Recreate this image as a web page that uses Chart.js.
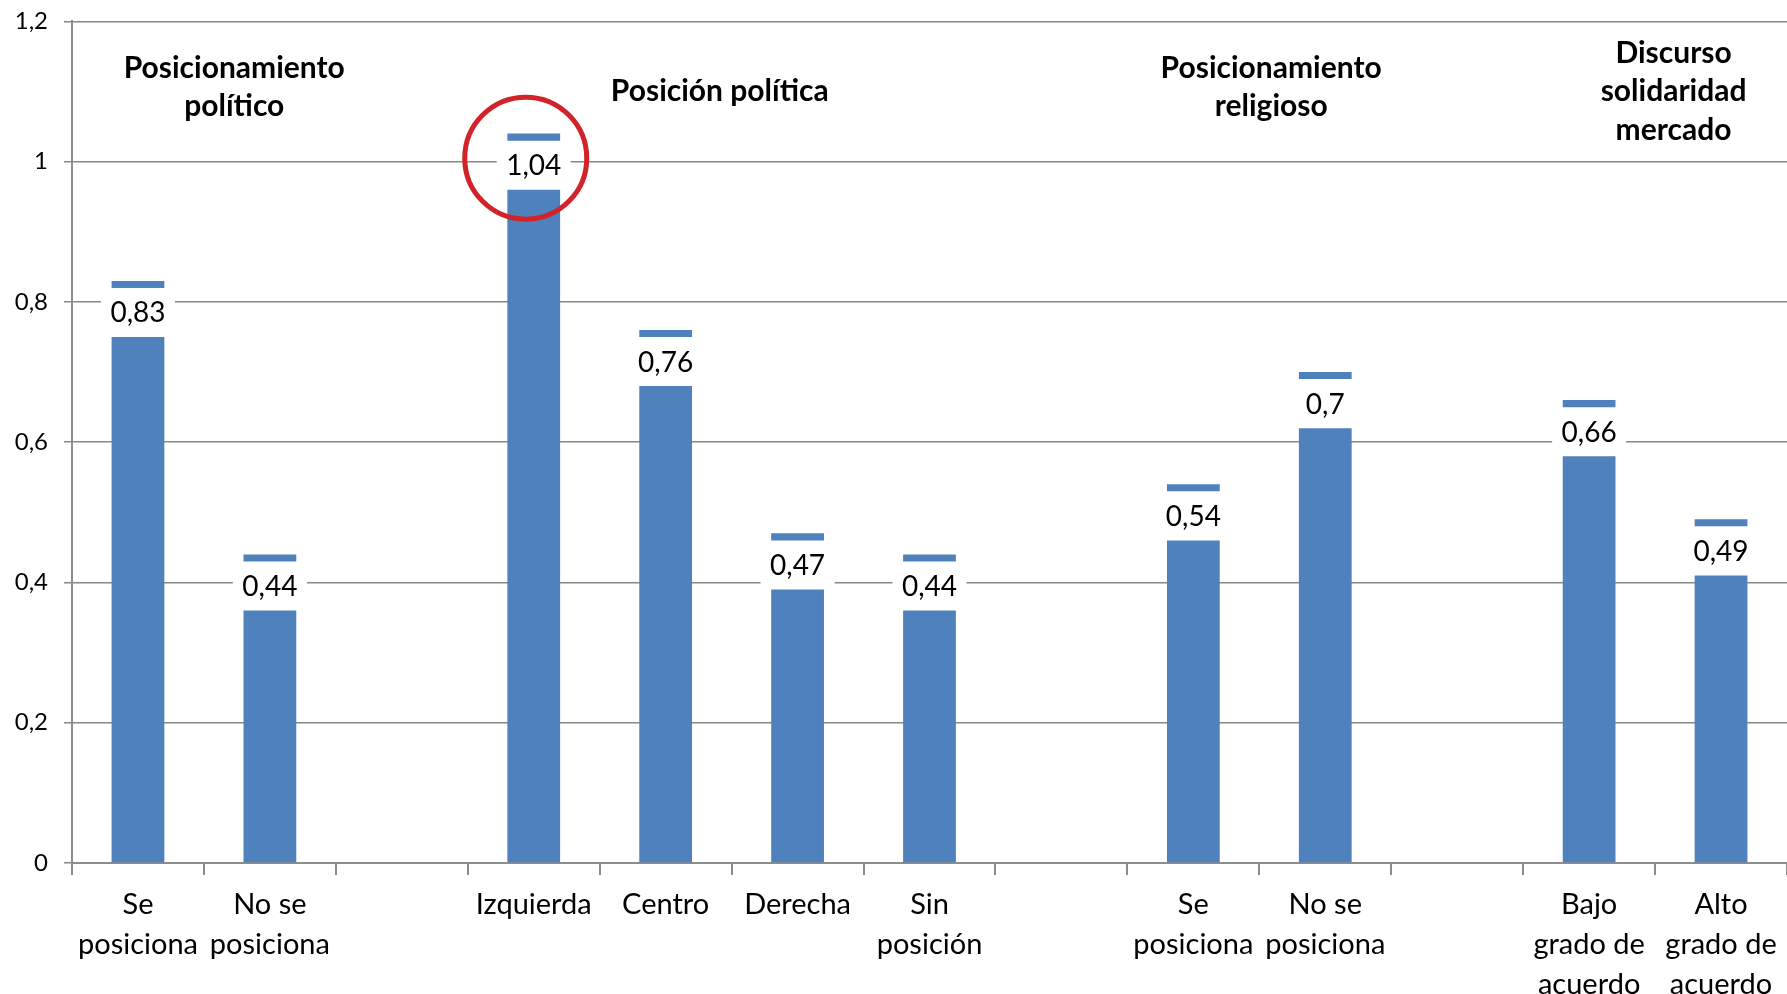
<!DOCTYPE html>
<html lang="es">
<head>
  <meta charset="UTF-8">
  <title>Posicionamiento</title>
  <script src="https://cdn.jsdelivr.net/npm/chart.js"></script>
  <style>
    html, body { margin: 0; padding: 0; background: #fff; }
    #wrap { width: 1787px; height: 994px; }
  </style>
</head>
<body>
  <div id="wrap"><canvas id="chart"></canvas></div>

  <script>
    // categories (empty strings are the spacers between groups)
    const categories = [
      ['Se', 'posiciona'], ['No se', 'posiciona'], '',
      ['Izquierda'], ['Centro'], ['Derecha'], ['Sin', 'posición'], '',
      ['Se', 'posiciona'], ['No se', 'posiciona'], '',
      ['Bajo', 'grado de', 'acuerdo'], ['Alto', 'grado de', 'acuerdo']
    ];
    const values = [0.83, 0.44, null, 1.04, 0.76, 0.47, 0.44, null, 0.54, 0.70, null, 0.66, 0.49];
    const yTicks = [0, 0.2, 0.4, 0.6, 0.8, 1, 1.2];

    // group headings, placed over category index "at", centred on value "y"
    const groupTitles = [
      { lines: ['Posicionamiento', 'político'], at: 0.73, y: 1.106 },
      { lines: ['Posición política'], at: 4.41, y: 1.1 },
      { lines: ['Posicionamiento', 'religioso'], at: 8.59, y: 1.106 },
      { lines: ['Discurso', 'solidaridad', 'mercado'], at: 11.64, y: 1.1 }
    ];
    const highlightIndex = 3;

    const BLUE = '#4F81BD';
    const GAP = 0.08;   // white space under the cap where the label sits
    const CAP = 0.01;   // thickness of the cap line
    const FONT = 'Lato, "Open Sans", sans-serif';

    const fmt = v => String(Number(v.toFixed(2))).replace('.', ',');

    const baseData = values.map(v => v == null ? null : v - GAP);
    const gapData = values.map(v => v == null ? null : GAP - CAP);
    const capData = values.map(v => v == null ? null : CAP);

    const overlay = {
      id: 'overlay',
      afterDatasetsDraw(chart) {
        const ctx = chart.ctx;
        const x = chart.scales.x, y = chart.scales.y;
        const bars = chart.getDatasetMeta(0).data;
        ctx.save();

        // value labels with white box over the gridlines
        ctx.font = '28px ' + FONT;
        ctx.textAlign = 'center';
        ctx.textBaseline = 'middle';
        values.forEach((v, i) => {
          if (v == null) return;
          const bx = bars[i].x;
          const top = y.getPixelForValue(v - CAP);
          const bottom = y.getPixelForValue(v - GAP);
          ctx.fillStyle = '#fff';
          ctx.fillRect(bx - 37, top + 1, 74, bottom - top - 2);
          ctx.fillStyle = '#000';
          ctx.fillText(fmt(v), bx, y.getPixelForValue(v - GAP / 2 - CAP / 2) + 1);
        });

        // group headings
        ctx.font = 'bold 30px ' + FONT;
        groupTitles.forEach(g => {
          const cx = x.getPixelForValue(g.at);
          const cy = y.getPixelForValue(g.y);
          const lh = 38.5;
          g.lines.forEach((line, k) => {
            ctx.fillText(line, cx, cy + (k - (g.lines.length - 1) / 2) * lh);
          });
        });

        // red circle around the highlighted value
        const hv = values[highlightIndex];
        ctx.strokeStyle = '#D2232A';
        ctx.lineWidth = 5;
        ctx.beginPath();
        ctx.arc(bars[highlightIndex].x - 8, y.getPixelForValue(hv - 0.035), 61, 0, Math.PI * 2);
        ctx.stroke();

        ctx.restore();
      }
    };

    window.onload = function () {
      const ctx = document.getElementById('chart').getContext('2d');
      new Chart(ctx, {
        type: 'bar',
        data: {
          labels: categories,
          datasets: [
            { data: baseData, backgroundColor: BLUE },
            { data: gapData, backgroundColor: 'rgba(0,0,0,0)' },
            { data: capData, backgroundColor: BLUE }
          ]
        },
        options: {
          responsive: true,
          maintainAspectRatio: false,
          animation: false,
          layout: { padding: 0 },
          datasets: { bar: { categoryPercentage: 1, barPercentage: 0.4 } },
          plugins: {
            legend: { display: false },
            tooltip: { enabled: false }
          },
          scales: {
            x: {
              stacked: true,
              grid: {
                offset: true,
                drawOnChartArea: false,
                drawTicks: true,
                tickLength: 12,
                color: '#8c8c8c',
                lineWidth: 2
              },
              border: { color: '#8c8c8c', width: 2 },
              ticks: {
                color: '#000',
                padding: 10,
                maxRotation: 0,
                autoSkip: false,
                font: { family: FONT, size: 29, lineHeight: 1.37 }
              },
              afterFit(s) { s.height = 131; }
            },
            y: {
              stacked: true,
              min: 0,
              max: 1.2,
              afterBuildTicks(s) { s.ticks = yTicks.map(v => ({ value: v })); },
              grid: {
                color: '#878787',
                lineWidth: 1.5,
                tickLength: 8
              },
              border: { color: '#8c8c8c', width: 2 },
              ticks: {
                color: '#000',
                padding: 16,
                // small lineHeight keeps the top label from pushing the plot down
                font: { family: FONT, size: 24, lineHeight: 0.45 },
                callback: v => fmt(v)
              },
              afterFit(s) { s.width = 72; }
            }
          }
        },
        plugins: [overlay]
      });
    };
  </script>
</body>
</html>
